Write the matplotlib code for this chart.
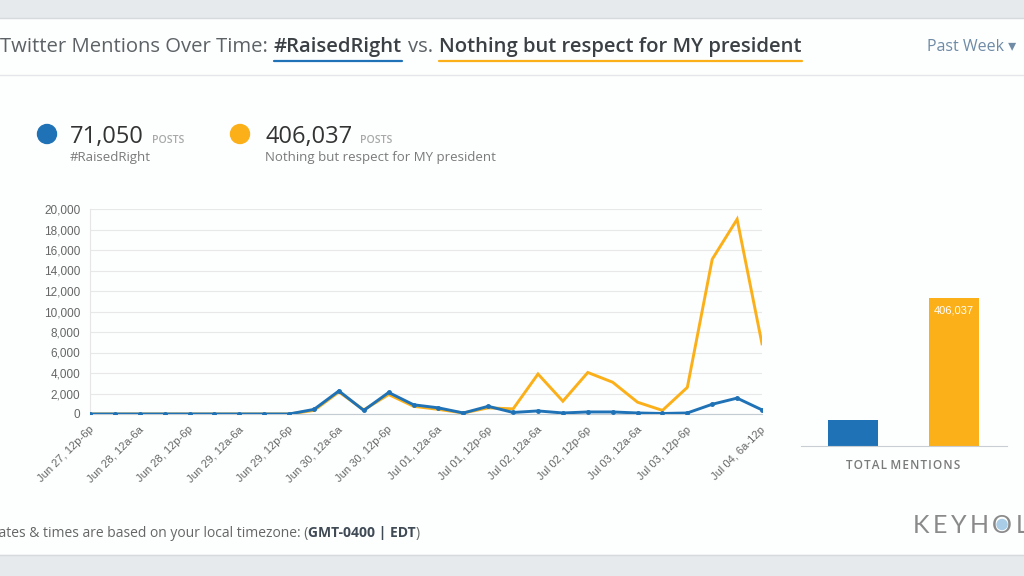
import matplotlib
matplotlib.use('Agg')
import matplotlib.pyplot as plt
from matplotlib.patches import Rectangle, Circle
from matplotlib.ticker import FuncFormatter
import matplotlib.transforms as mtransforms

# ---------------- data ----------------
tick_labels = ["Jun 27, 12p-6p", "Jun 28, 12a-6a", "Jun 28, 12p-6p", "Jun 29, 12a-6a",
               "Jun 29, 12p-6p", "Jun 30, 12a-6a", "Jun 30, 12p-6p", "Jul 01, 12a-6a",
               "Jul 01, 12p-6p", "Jul 02, 12a-6a", "Jul 02, 12p-6p", "Jul 03, 12a-6a",
               "Jul 03, 12p-6p", "Jul 04, 6a-12p"]
tick_index = [0, 2, 4, 6, 8, 10, 12, 14, 16, 18, 20, 22, 24, 27]
raised_right = [0, 0, 0, 0, 0, 0, 0, 0, 0, 450, 2250, 350, 2100, 900, 600, 100, 750, 150,
                300, 100, 200, 200, 100, 50, 100, 950, 1550, 400]
respect = [0, 0, 0, 0, 0, 0, 0, 0, 0, 350, 2150, 400, 1900, 750, 450, 100, 600, 500,
           3900, 1250, 4050, 3100, 1150, 350, 2600, 15100, 19000, 6850]
series_names = ["#RaisedRight", "Nothing but respect for MY president"]
totals = [71050, 406037]
yticks = [0, 2000, 4000, 6000, 8000, 10000, 12000, 14000, 16000, 18000, 20000]

BLUE = '#1f72b6'
ORANGE = '#fbb01a'
W, H = 1024, 576

fig = plt.figure(figsize=(10.24, 5.76), dpi=100)
fig.patch.set_facecolor('#fdfefe')

# background axes in pixel coordinates
bg = fig.add_axes([0, 0, 1, 1])
bg.set_xlim(0, W)
bg.set_ylim(H, 0)
bg.axis('off')
bg.add_patch(Rectangle((0, 0), W, 17, color='#e6eaed', zorder=0))
bg.add_patch(Rectangle((0, 555), W, 21, color='#e6eaed', zorder=0))
bg.plot([0, W], [17.5, 17.5], color='#d6dadd', lw=1)
bg.plot([0, W], [555, 555], color='#d6dadd', lw=1)
bg.plot([0, W], [75, 75], color='#e4e7e9', lw=1)

renderer = fig.canvas.get_renderer()

def put(x, y, s, **kw):
    t = bg.text(x, y, s, va='baseline', ha='left', **kw)
    bb = t.get_window_extent(renderer)
    return t, bb.x0, bb.x1

TF = ['Open Sans', 'DejaVu Sans']
TS = 14.6
# title
x = 0
_, _, x = put(x, 52, "Twitter Mentions Over Time:", family=TF, fontsize=TS, color='#5d6266')
x += 6
_, a0, x = put(x, 52, "#RaisedRight", family=TF, fontsize=TS, color='#3b4045', fontweight='semibold')
bg.plot([a0, x], [61, 61], color=BLUE, lw=1.6, solid_capstyle='round')
x += 6
_, _, x = put(x, 52, "vs.", family=TF, fontsize=TS, color='#5d6266')
x += 6
_, b0, x = put(x, 52, "Nothing but respect for MY president", family=TF, fontsize=TS,
               color='#3b4045', fontweight='semibold')
bg.plot([b0, x], [61, 61], color=ORANGE, lw=1.6, solid_capstyle='round')
bg.text(1016, 51, "Past Week \u25be", family=TF, fontsize=11.5, color='#6f8ba6',
        ha='right', va='baseline')

# legend
for cx, tx, tot, name, col in [(47, 70, totals[0], series_names[0], BLUE),
                               (240, 265, totals[1], series_names[1], ORANGE)]:
    bg.add_patch(Circle((cx, 134), 9.5, color=col))
    _, _, x1 = put(tx, 143, f"{tot:,}", family=TF, fontsize=17, color='#333333')
    put(x1 + 8, 143, "POSTS", family=TF, fontsize=7.6, color='#a8a8a8', fontweight='semibold')
    put(tx, 161, name, family=TF, fontsize=9.5, color='#7a7a7a')

# footer
_, _, x = put(-10, 537, "dates & times are based on your local timezone: (", family=TF,
              fontsize=10, color='#666666')
_, _, x = put(x, 537, "GMT-0400 | EDT", family=TF, fontsize=10, color='#3f4a55', fontweight='bold')
put(x, 537, ")", family=TF, fontsize=10, color='#666666')
x = 913
for ch in "KEYHOLE":
    t, x0, x = put(x, 533, ch, family=['Lato', 'DejaVu Sans'], fontsize=18, color='#8a8a8a')
    if ch == 'O':
        bg.add_patch(Circle(((x0 + x) / 2, 524.5), 5, color='#a9cde6'))
    x += 3.4

# ---------------- main line chart ----------------
L, R, T, B = 90, 762, 209, 414
ax = fig.add_axes([L / W, 1 - B / H, (R - L) / W, (B - T) / H])
ax.set_facecolor('none')
xs = list(range(len(raised_right)))
ax.plot(xs, respect, color=ORANGE, lw=2.1, zorder=3, solid_joinstyle='miter')
ax.plot(xs, raised_right, color=BLUE, lw=2.1, marker='o', ms=2.5, zorder=4,
        solid_joinstyle='miter')
ax.set_xlim(0, len(xs) - 1)
ax.set_ylim(0, 20000)
ax.set_yticks(yticks)
ax.yaxis.set_major_formatter(FuncFormatter(lambda v, p: f"{int(v):,}"))
ax.grid(axis='y', color='#e8e8e8', lw=0.8)
ax.set_axisbelow(True)
for s in ['top', 'right']:
    ax.spines[s].set_visible(False)
ax.spines['left'].set_color('#e6e6e6')
ax.spines['bottom'].set_color('#c3cbd3')
ax.tick_params(axis='y', length=0, pad=7, labelsize=8.5, labelcolor='#666666')
ax.set_xticks(tick_index)
ax.set_xticklabels(tick_labels, rotation=45, ha='right', va='center', rotation_mode='anchor')
ax.tick_params(axis='x', length=0, pad=10, labelsize=8, labelcolor='#666666')
offset = mtransforms.ScaledTranslation(2 / 100, 0, fig.dpi_scale_trans)
for lab in ax.get_xticklabels():
    lab.set_transform(lab.get_transform() + offset)
    lab.set_family(['Liberation Sans', 'DejaVu Sans'])
for lab in ax.get_yticklabels():
    lab.set_family(['Liberation Sans', 'DejaVu Sans'])

# ---------------- total bar chart ----------------
bL, bR, bT, bB = 801, 1007, 298, 446
bx = fig.add_axes([bL / W, 1 - bB / H, (bR - bL) / W, (bB - bT) / H])
bx.set_facecolor('none')
bx.bar([0, 1], totals, width=0.495, color=[BLUE, ORANGE])
bx.set_xlim(-0.515, 1.525)
bx.set_ylim(0, totals[1])
for s in ['top', 'right', 'left']:
    bx.spines[s].set_visible(False)
bx.spines['bottom'].set_color('#c8ced4')
bx.set_xticks([])
bx.set_yticks([])
bx.annotate(f"{totals[1]:,}", (1, totals[1]), xytext=(0, -9), textcoords='offset points',
            ha='center', va='center', color='white', fontsize=8,
            family=['Liberation Sans', 'DejaVu Sans'])
bg.text(903, 469, "T O T A L   M E N T I O N S".replace(' ', '\u200a'), family=TF, fontsize=8.5,
        color='#7a7a7a', fontweight='semibold', ha='center', va='baseline')

fig.savefig('out.png', dpi=100, facecolor=fig.get_facecolor())
